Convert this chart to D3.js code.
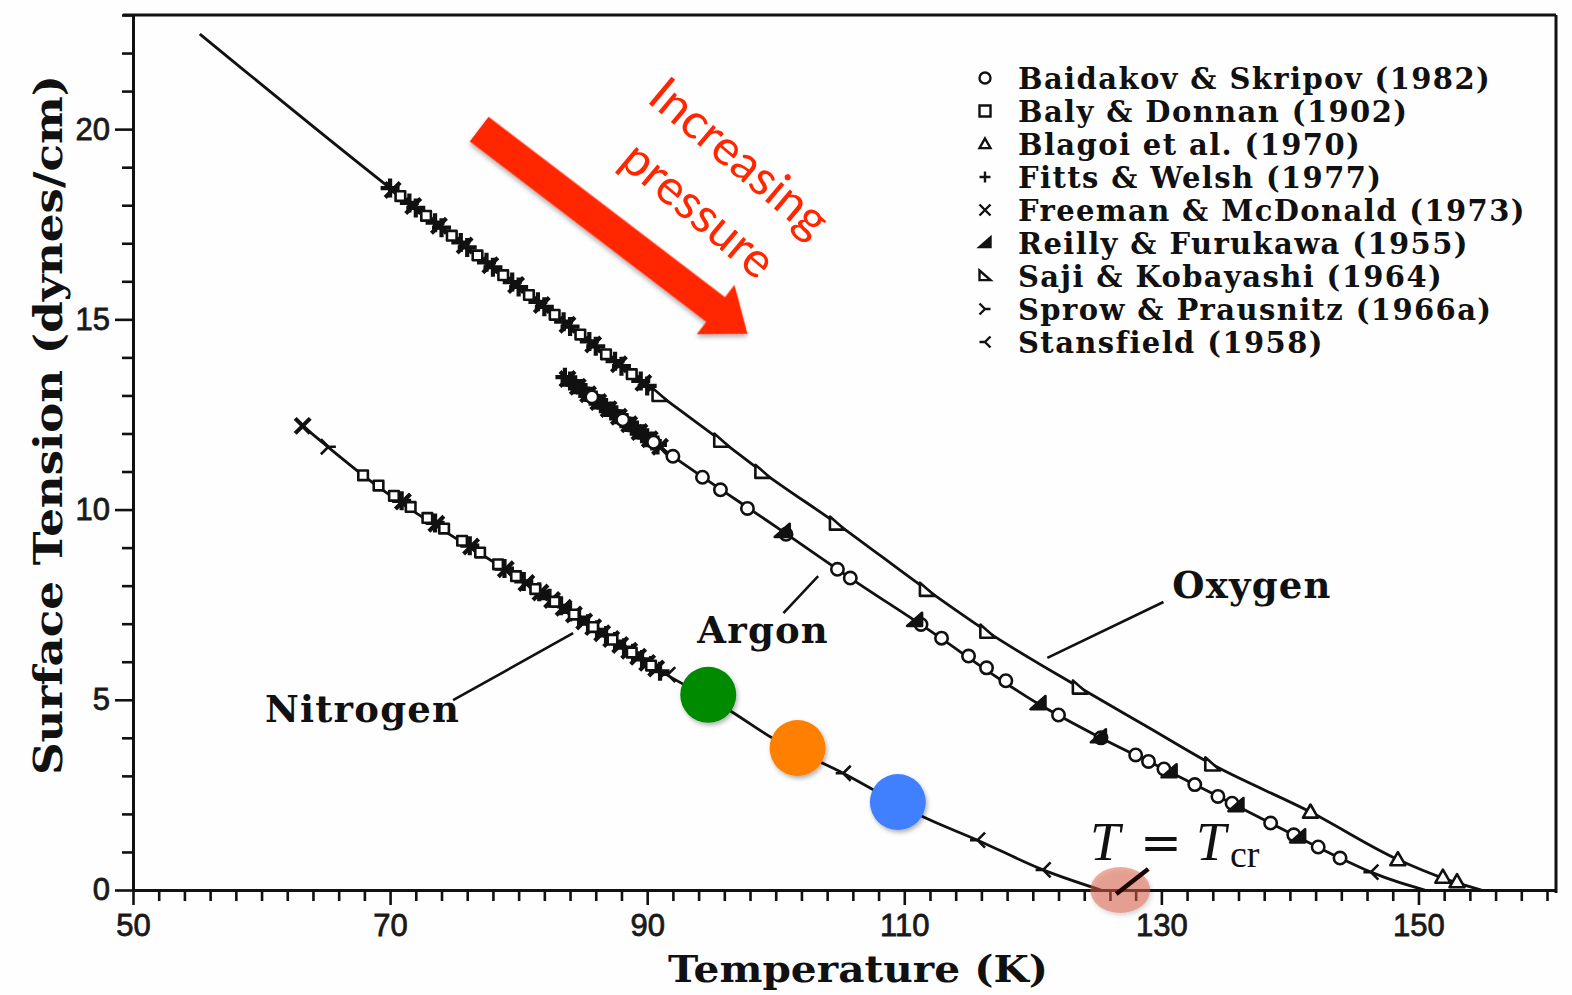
<!DOCTYPE html>
<html>
<head>
<meta charset="utf-8">
<script src="https://cdn.jsdelivr.net/npm/d3@7"></script>
<style>
  html, body { margin: 0; padding: 0; background: #fff; }
  svg { display: block; }
</style>
</head>
<body>
<svg id="chart" width="1572" height="995"></svg>
<script>
// ---- Fitted surface-tension curves: temperature (K) and tension (dynes/cm) ----
const oxygenT   = [55.2, 70.0, 80.0, 90.2, 95.8, 99.0, 104.8, 111.8, 116.5, 123.7, 129.0, 134.0, 141.6, 148.4, 152.0, 154.9];
const oxygenS   = [22.5, 18.45, 15.85, 13.2, 11.8, 10.98, 9.62, 7.88, 6.78, 5.31, 4.27, 3.29, 2.05, 0.8, 0.3, 0];
const argonT    = [83.5, 92.0, 100.0, 105.8, 111.1, 120.35, 125.0, 130.2, 135.0, 140.0, 143.9, 146.3, 148.5, 150.5];
const argonS    = [13.5, 11.4, 9.55, 8.2, 7.02, 4.91, 4.05, 3.18, 2.36, 1.5, 0.84, 0.47, 0.2, 0];
const nitrogenT = [63.2, 67.9, 80.0, 91.2, 96.6, 99.7, 105.25, 111.5, 115.7, 120.8, 125.3];
const nitrogenS = [12.2, 10.9, 8.2, 5.72, 4.68, 4.0, 3.07, 1.92, 1.31, 0.53, 0];

// ---- Measured points per source: [T, tension] ----
const baidakovPts = [
  [85.7, 12.96], [88.1, 12.36], [90.5, 11.77],
  [92.0, 11.4], [94.3, 10.85], [95.7, 10.52], [97.8, 10.03], [100.8, 9.35], [104.8, 8.43], [105.8, 8.2],
  [111.3, 6.98], [112.9, 6.62], [115.0, 6.15], [116.4, 5.84], [117.9, 5.5], [122.0, 4.6], [125.3, 4.0],
  [128.0, 3.55], [129.0, 3.38], [130.2, 3.18], [132.6, 2.77], [134.4, 2.46], [135.5, 2.28],
  [138.5, 1.76], [140.3, 1.45], [142.2, 1.13], [143.9, 0.84]
];
const balyPts = [
  [70.8, 18.24], [72.8, 17.72], [74.8, 17.2], [76.8, 16.68], [78.8, 16.16], [80.8, 15.64], [82.8, 15.12],
  [84.8, 14.6], [86.8, 14.08], [88.8, 13.56],
  [67.9, 10.9], [69.1, 10.63], [70.3, 10.36], [71.6, 10.07], [72.9, 9.78], [74.2, 9.5], [75.6, 9.18],
  [77.0, 8.87], [78.4, 8.56], [79.8, 8.25], [81.3, 7.91], [82.8, 7.58], [84.3, 7.24], [85.8, 6.91],
  [87.3, 6.58], [88.8, 6.24], [90.3, 5.9]
];
const blagoiPts = [[141.6, 2.05], [148.4, 0.8], [151.9, 0.34], [153.0, 0.22]];
const fittsPts = [
  [70.0, 18.45], [71.5, 18.06], [72.0, 17.93], [73.5, 17.54], [74.0, 17.41], [75.5, 17.02], [76.0, 16.89],
  [77.5, 16.5], [78.0, 16.37], [79.5, 15.98], [80.0, 15.85], [81.5, 15.46], [82.0, 15.33], [83.5, 14.94],
  [84.0, 14.81], [85.5, 14.42], [86.0, 14.29], [87.5, 13.9], [88.0, 13.77], [89.5, 13.38], [90.0, 13.25],
  [83.6, 13.48], [84.0, 13.38], [84.4, 13.28], [84.8, 13.18], [85.2, 13.08], [85.6, 12.98], [86.0, 12.88],
  [86.4, 12.78], [86.8, 12.68], [87.2, 12.59], [87.6, 12.49], [88.0, 12.39], [88.4, 12.29], [88.8, 12.19],
  [89.2, 12.09], [89.6, 11.99], [90.0, 11.89], [90.4, 11.8], [90.8, 11.7],
  [70.9, 10.23], [73.5, 9.65], [76.2, 9.05], [78.9, 8.45], [80.4, 8.11], [81.6, 7.84], [82.4, 7.67],
  [83.3, 7.47], [84.0, 7.31], [84.7, 7.16], [85.4, 7.0], [86.1, 6.84], [86.8, 6.69], [87.5, 6.53],
  [88.2, 6.37], [88.9, 6.22], [89.6, 6.06], [90.3, 5.9], [91.0, 5.75]
];
const freemanPts = [
  [63.2, 12.2], [71.0, 10.21], [73.6, 9.63], [76.3, 9.03], [79.0, 8.43], [80.6, 8.07], [81.7, 7.82],
  [82.6, 7.62], [83.5, 7.42], [84.3, 7.24], [85.1, 7.06], [85.8, 6.91], [86.5, 6.75], [87.2, 6.6],
  [87.9, 6.44], [88.6, 6.29], [89.3, 6.13], [90.0, 5.97], [90.7, 5.82],
  [83.8, 13.43], [84.6, 13.23], [85.4, 13.03], [86.2, 12.83], [87.0, 12.64], [87.8, 12.44], [88.6, 12.24],
  [89.4, 12.04], [90.2, 11.85], [91.0, 11.65],
  [70.2, 18.4], [71.8, 17.98], [73.8, 17.46], [75.8, 16.94], [77.8, 16.42], [79.8, 15.9], [81.8, 15.38],
  [83.8, 14.86], [85.8, 14.34], [87.8, 13.82], [89.7, 13.33]
];
const reillyPts = [[100.5, 9.43], [110.8, 7.09], [120.4, 4.9], [125.1, 4.03], [130.6, 3.11], [135.8, 2.22], [140.6, 1.4]];
const sajiPts = [[91.0, 13.0], [95.8, 11.8], [99.0, 10.98], [104.8, 9.62], [111.8, 7.88], [116.5, 6.78], [123.7, 5.31], [134.0, 3.29]];
const sprowPts = [[65.2, 11.65]];
const stansfieldPts = [[91.6, 5.66], [105.25, 3.07], [115.7, 1.31], [120.8, 0.53], [146.3, 0.47]];

const legendLabels = [
  "Baidakov & Skripov (1982)", "Baly & Donnan (1902)", "Blagoi et al. (1970)",
  "Fitts & Welsh (1977)", "Freeman & McDonald (1973)", "Reilly & Furukawa (1955)",
  "Saji & Kobayashi (1964)", "Sprow & Prausnitz (1966a)", "Stansfield (1958)"
];
const legendSymbols = ["circle", "square", "triangle", "plus", "cross", "wedge", "corner", "forkRight", "forkLeft"];

// ---- Axis ticks ----
const xMajorTicks = [50, 70, 90, 110, 130, 150];
const yMajorTicks = [0, 5, 10, 15, 20];

// ---- Curve names and their leader lines: [T, tension] ----
const curveNames   = ["Oxygen", "Argon", "Nitrogen"];
const curveNamePos = [[130.85, 7.67], [93.9, 6.49], [60.27, 4.42]];
const leaderFrom   = [[121.13, 6.1], [100.6, 7.28], [74.9, 4.99]];
const leaderTo     = [[130.16, 7.57], [103.3, 8.25], [84.24, 6.75]];

// ---- Highlighted states along the nitrogen curve ----
const stateColors = ["#048a04", "#ff7f00", "#4080ff"];
const statePts    = [[94.75, 5.13], [101.7, 3.73], [109.5, 2.31]];
const criticalPt  = [126.8, 0];

// ---- "Increasing pressure" arrow, tail and tip: [T, tension] ----
const arrowTail = [76.93, 20.0];
const arrowTip  = [97.8, 14.62];

// ================= drawing =================
const svg = d3.select("#chart");
const x = d3.scaleLinear().domain([50, 160.7]).range([133, 1556]);
const y = d3.scaleLinear().domain([0, 23]).range([890, 15]);

svg.append("rect").attr("width", 1572).attr("height", 995).attr("fill", "#fefefe");

const defs = svg.append("defs");
const shadow = defs.append("filter").attr("id", "soft").attr("x", "-30%").attr("y", "-30%").attr("width", "160%").attr("height", "160%");
shadow.append("feDropShadow").attr("dx", 1.5).attr("dy", 2.5).attr("stdDeviation", 2).attr("flood-color", "#000").attr("flood-opacity", 0.3);

// frame
svg.append("line").attr("x1", 123).attr("x2", x.range()[1]).attr("y1", y(23)).attr("y2", y(23))
  .attr("stroke", "#111").attr("stroke-width", 3);
svg.append("line").attr("x1", x.range()[1]).attr("x2", x.range()[1]).attr("y1", y(23)).attr("y2", y(0) + 3)
  .attr("stroke", "#111").attr("stroke-width", 3);

// axes
const tickFont = "'Liberation Sans', Arial, sans-serif";
function styleAxis(g, size) {
  g.select(".domain").attr("stroke", "#111").attr("stroke-width", 3);
  g.selectAll(".tick line").attr("stroke", "#111").attr("stroke-width", 2.6);
  g.selectAll(".tick text").attr("font-family", tickFont).attr("font-size", size)
    .attr("fill", "#1a1a1a").attr("stroke", "#1a1a1a").attr("stroke-width", 0.8);
}
const xMinor = d3.range(52, 161, 2).filter(v => !xMajorTicks.includes(v));
const gxMinor = svg.append("g").attr("transform", `translate(0,${y(0)})`)
  .call(d3.axisBottom(x).tickValues(xMinor).tickSize(11).tickSizeOuter(0).tickFormat(""));
styleAxis(gxMinor, 30);
const gx = svg.append("g").attr("transform", `translate(0,${y(0)})`)
  .call(d3.axisBottom(x).tickValues(xMajorTicks).tickSize(15).tickSizeOuter(0).tickPadding(9).tickFormat(d3.format("d")));
styleAxis(gx, 31);

const yMinor = d3.range(1, 24, 1).filter(v => !yMajorTicks.includes(v));
const gyMinor = svg.append("g").attr("transform", `translate(${x(50)},0)`)
  .call(d3.axisLeft(y).tickValues(yMinor).tickSize(11).tickSizeOuter(0).tickFormat(""));
styleAxis(gyMinor, 30);
const gy = svg.append("g").attr("transform", `translate(${x(50)},0)`)
  .call(d3.axisLeft(y).tickValues(yMajorTicks).tickSize(18).tickSizeOuter(0).tickPadding(5).tickFormat(d3.format("d")));
styleAxis(gy, 31);

// axis titles
const titleFont = "'DejaVu Serif', 'Liberation Serif', serif";
svg.append("text").attr("x", 858).attr("y", 982).attr("text-anchor", "middle")
  .attr("font-family", titleFont).attr("font-weight", "bold").attr("font-size", 38).attr("fill", "#111")
  .attr("textLength", 380).attr("lengthAdjust", "spacingAndGlyphs")
  .text("Temperature (K)");
svg.append("text").attr("transform", "translate(62,425) rotate(-90)").attr("text-anchor", "middle")
  .attr("font-family", titleFont).attr("font-weight", "bold").attr("font-size", 39).attr("fill", "#111")
  .attr("textLength", 700).attr("lengthAdjust", "spacingAndGlyphs")
  .text("Surface Tension (dynes/cm)");

// curves
const line = d3.line().x(d => x(d[0])).y(d => y(d[1])).curve(d3.curveMonotoneX);
const curves = [d3.zip(oxygenT, oxygenS), d3.zip(argonT, argonS), d3.zip(nitrogenT, nitrogenS)];
svg.append("g").selectAll("path").data(curves).join("path")
  .attr("d", line).attr("fill", "none").attr("stroke", "#111").attr("stroke-width", 2.8);

// marker glyphs
const glyph = {
  circle:    s => `M${s},0A${s},${s} 0 1,1 ${-s},0A${s},${s} 0 1,1 ${s},0Z`,
  square:    s => `M${-s},${-s}H${s}V${s}H${-s}Z`,
  triangle:  s => `M0,${-s}L${s},${s * 0.75}L${-s},${s * 0.75}Z`,
  plus:      s => `M${-s},0H${s}M0,${-s}V${s}`,
  cross:     s => `M${-s},${-s}L${s},${s}M${-s},${s}L${s},${-s}`,
  wedge:     s => `M${-s},${s * 0.75}L${s},${s * 0.75}L${s},${-s}Z`,
  corner:    s => `M${-s},${-s}L${-s},${s * 0.75}L${s},${s * 0.75}Z`,
  forkRight: s => `M${-s},${-s}L0,0L${-s},${s}M0,0H${s}`,
  forkLeft:  s => `M${s},${-s}L0,0L${s},${s}M0,0H${-s}`
};
const glyphFill = { circle: "#fff", square: "#fff", triangle: "#fff", corner: "#fff", wedge: "#111" };
const plotSize  = { circle: 6.2, square: 4.8, triangle: 7.5, plus: 9.5, cross: 7.5, wedge: 7.5, corner: 7.5, forkRight: 7.5, forkLeft: 7.5 };

const markerSets = [
  ["plus", fittsPts], ["cross", freemanPts], ["circle", baidakovPts], ["square", balyPts], ["triangle", blagoiPts],
  ["wedge", reillyPts], ["corner", sajiPts], ["forkRight", sprowPts], ["forkLeft", stansfieldPts]
];
const gm = svg.append("g");
markerSets.forEach(([sym, pts]) => {
  gm.append("g").selectAll("path").data(pts).join("path")
    .attr("transform", d => `translate(${x(d[0])},${y(d[1])})`)
    .attr("d", glyph[sym](plotSize[sym]))
    .attr("fill", glyphFill[sym] || "none")
    .attr("stroke", "#111")
    .attr("stroke-width", (sym === "plus" || sym === "cross") ? 4.2 : 2.6)
    .attr("stroke-linejoin", "round");
});

// curve names with leader lines
const labelFont = "'DejaVu Serif', 'Liberation Serif', serif";
curveNames.forEach((name, i) => {
  svg.append("line")
    .attr("x1", x(leaderFrom[i][0])).attr("y1", y(leaderFrom[i][1]))
    .attr("x2", x(leaderTo[i][0])).attr("y2", y(leaderTo[i][1]))
    .attr("stroke", "#111").attr("stroke-width", 2.6);
  svg.append("text").attr("x", x(curveNamePos[i][0])).attr("y", y(curveNamePos[i][1]))
    .attr("font-family", labelFont).attr("font-weight", "bold").attr("font-size", 37)
    .attr("letter-spacing", 1.2).attr("fill", "#111")
    .text(name);
});

// legend
const legend = svg.append("g").attr("transform", "translate(985,78)");
legendLabels.forEach((lab, i) => {
  const row = legend.append("g").attr("transform", `translate(0,${i * 33})`);
  const sym = legendSymbols[i];
  row.append("path").attr("d", glyph[sym](5.5))
    .attr("fill", glyphFill[sym] || "none").attr("stroke", "#111").attr("stroke-width", 2.4);
  row.append("text").attr("x", 33).attr("y", 11)
    .attr("font-family", labelFont).attr("font-weight", "bold").attr("font-size", 29)
    .attr("letter-spacing", 1.4).attr("fill", "#111")
    .text(lab);
});

// highlighted nitrogen states
svg.append("g").selectAll("circle").data(statePts).join("circle")
  .attr("cx", d => x(d[0])).attr("cy", d => y(d[1])).attr("r", 28)
  .attr("fill", (d, i) => stateColors[i]).attr("filter", "url(#soft)");

// critical point
svg.append("ellipse").attr("cx", x(criticalPt[0])).attr("cy", y(criticalPt[1])).attr("rx", 30).attr("ry", 23)
  .attr("fill", "rgba(222,95,70,0.5)").attr("filter", "url(#soft)");
svg.append("line").attr("x1", x(criticalPt[0]) - 4).attr("y1", y(criticalPt[1]) + 4)
  .attr("x2", x(criticalPt[0]) + 28).attr("y2", y(criticalPt[1]) - 21)
  .attr("stroke", "#1c0500").attr("stroke-width", 4.5);
const crit = svg.append("text").attr("y", 860).attr("font-family", "'Liberation Serif', 'DejaVu Serif', serif")
  .attr("font-size", 54).attr("fill", "#111");
crit.append("tspan").attr("x", 1090).attr("font-style", "italic").text("T");
crit.append("tspan").attr("x", 1140).attr("font-family", "'DejaVu Serif', serif").attr("font-size", 50).text("=");
crit.append("tspan").attr("x", 1196).attr("font-style", "italic").text("T");
crit.append("tspan").attr("x", 1230).attr("dy", 7).attr("font-size", 38).text("cr");

// increasing-pressure arrow
const ax0 = x(arrowTail[0]), ay0 = y(arrowTail[1]);
const ax1 = x(arrowTip[0]),  ay1 = y(arrowTip[1]);
const ang = Math.atan2(ay1 - ay0, ax1 - ax0);
const len = Math.hypot(ax1 - ax0, ay1 - ay0);
const hw = 15.5, headW = 31, headL = 40;
const arrowShape = [[0, -hw], [len - headL, -hw], [len - headL, -headW], [len, 0], [len - headL, headW], [len - headL, hw], [0, hw]];
svg.append("path")
  .attr("transform", `translate(${ax0},${ay0}) rotate(${ang * 180 / Math.PI})`)
  .attr("d", "M" + arrowShape.map(p => p.join(",")).join("L") + "Z")
  .attr("fill", "#ff2600").attr("filter", "url(#soft)");

const redFont = "Lato, 'Open Sans', sans-serif";
svg.append("text").attr("transform", "translate(739,158) rotate(40)").attr("text-anchor", "middle")
  .attr("font-family", redFont).attr("font-size", 49).attr("fill", "#ff2600").attr("dy", "0.33em")
  .text("Increasing");
svg.append("text").attr("transform", "translate(698,210) rotate(40)").attr("text-anchor", "middle")
  .attr("font-family", redFont).attr("font-size", 49).attr("fill", "#ff2600").attr("dy", "0.33em")
  .text("pressure");
</script>
</body>
</html>
